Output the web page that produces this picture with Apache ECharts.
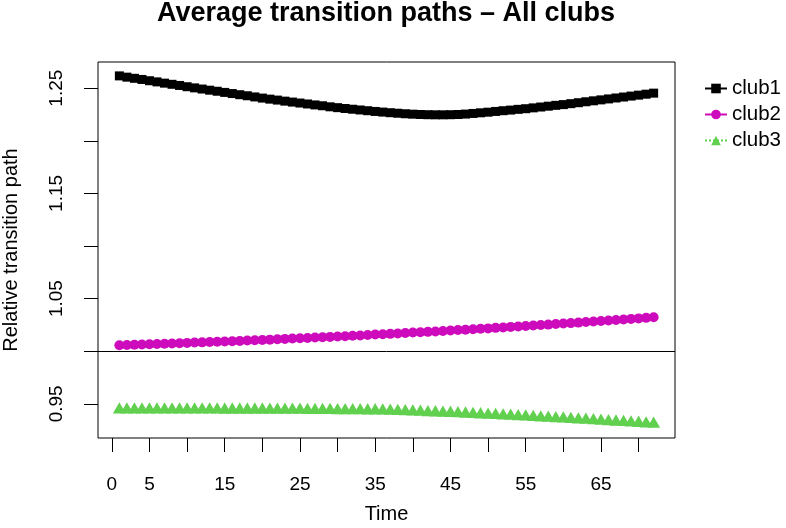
<!DOCTYPE html>
<html>
<head>
<meta charset="utf-8">
<script src="https://cdn.jsdelivr.net/npm/echarts@6/dist/echarts.min.js"></script>
<style>html,body{margin:0;padding:0;background:#fff;}#c{width:786px;height:528px;}</style>
</head>
<body>
<div id="c"></div>
<script>
var titleText = 'Average transition paths \u2013 All clubs';
var xName = 'Time';
var yName = 'Relative transition path';
var seriesNames = ['club1', 'club2', 'club3'];

var time = [1,2,3,4,5,6,7,8,9,10,11,12,13,14,15,16,17,18,19,20,21,22,23,24,25,26,27,28,29,30,31,32,33,34,35,36,
            37,38,39,40,41,42,43,44,45,46,47,48,49,50,51,52,53,54,55,56,57,58,59,60,61,62,63,64,65,66,67,68,69,70,71,72];

var club1 = [1.2617,1.2605,1.2594,1.2583,1.2571,1.2560,1.2548,1.2537,1.2526,1.2514,
             1.2503,1.2492,1.2481,1.2471,1.2460,1.2449,1.2438,1.2428,1.2417,1.2406,
             1.2396,1.2387,1.2377,1.2368,1.2359,1.2350,1.2341,1.2333,1.2323,1.2315,
             1.2307,1.2300,1.2293,1.2286,1.2279,1.2273,1.2267,1.2262,1.2257,1.2253,
             1.2250,1.2248,1.2247,1.2247,1.2248,1.2250,1.2254,1.2260,1.2266,1.2272,
             1.2279,1.2286,1.2292,1.2299,1.2305,1.2313,1.2321,1.2329,1.2337,1.2344,
             1.2353,1.2362,1.2371,1.2380,1.2389,1.2398,1.2407,1.2416,1.2425,1.2434,
             1.2443,1.2453];

var club2 = [1.0057,1.0059,1.0062,1.0064,1.0066,1.0069,1.0071,1.0074,1.0076,1.0079,
             1.0082,1.0084,1.0087,1.0090,1.0093,1.0095,1.0098,1.0101,1.0104,1.0107,
             1.0110,1.0113,1.0117,1.0120,1.0123,1.0126,1.0130,1.0133,1.0136,1.0140,
             1.0143,1.0147,1.0150,1.0154,1.0158,1.0161,1.0165,1.0169,1.0173,1.0177,
             1.0180,1.0184,1.0188,1.0192,1.0196,1.0201,1.0205,1.0209,1.0213,1.0217,
             1.0222,1.0226,1.0231,1.0235,1.0239,1.0244,1.0249,1.0253,1.0258,1.0263,
             1.0267,1.0272,1.0277,1.0282,1.0287,1.0292,1.0297,1.0302,1.0307,1.0312,
             1.0317,1.0322];

var club3 = [0.9444,0.9444,0.9444,0.9444,0.9444,0.9444,0.9443,0.9443,0.9443,0.9443,
             0.9443,0.9443,0.9443,0.9443,0.9442,0.9442,0.9442,0.9442,0.9442,0.9442,
             0.9441,0.9441,0.9440,0.9440,0.9440,0.9439,0.9439,0.9438,0.9438,0.9437,
             0.9437,0.9436,0.9436,0.9435,0.9435,0.9434,0.9431,0.9429,0.9426,0.9424,
             0.9421,0.9418,0.9416,0.9413,0.9411,0.9408,0.9404,0.9401,0.9397,0.9394,
             0.9391,0.9387,0.9384,0.9380,0.9376,0.9372,0.9368,0.9364,0.9360,0.9357,
             0.9353,0.9349,0.9345,0.9341,0.9337,0.9332,0.9328,0.9324,0.9320,0.9316,
             0.9311,0.9307];

var xTicks = [0,5,10,15,20,25,30,35,40,45,50,55,60,65,70];
var xTickLabels = [0,5,15,25,35,45,55,65];
var yTicks = [0.95,1.00,1.05,1.10,1.15,1.20,1.25];
var yTickLabels = [0.95,1.05,1.15,1.25];
var refLine = 1.0;

function pairs(xs, ys) { return xs.map(function (x, i) { return [x, ys[i]]; }); }

var FONT = '"Liberation Sans", Arial, Helvetica, sans-serif';
var chart = echarts.init(document.getElementById('c'), null, {renderer: 'canvas'});
chart.setOption({
  animation: false,
  backgroundColor: '#fff',
  textStyle: {fontFamily: FONT, color: '#000'},
  title: {
    text: titleText, left: 386, top: 0, padding: 0, textAlign: 'center',
    textStyle: {fontFamily: FONT, fontWeight: 'bold', fontSize: 27, color: '#000'}
  },
  legend: {
    orient: 'vertical', left: 704, top: 78, padding: 0,
    itemWidth: 22, itemHeight: 12, itemGap: 5,
    textStyle: {fontFamily: FONT, fontSize: 20.5, color: '#000', lineHeight: 20},
    data: seriesNames
  },
  grid: {left: 98, right: 111, top: 62, bottom: 90, show: true, borderColor: '#000', borderWidth: 1,
         backgroundColor: 'transparent', containLabel: false, outerBoundsMode: 'none'},
  xAxis: {
    type: 'value', min: -1.84, max: 74.84,
    name: xName, nameLocation: 'middle', nameGap: 66,
    nameTextStyle: {fontFamily: FONT, fontSize: 20, color: '#000'},
    axisLine: {show: false, onZero: false},
    axisTick: {show: true, length: 14, lineStyle: {color: '#000', width: 1}, customValues: xTicks},
    axisLabel: {show: true, margin: 37, fontFamily: FONT, fontSize: 19, color: '#000', customValues: xTickLabels,
                formatter: function (v) { return String(v); }},
    splitLine: {show: false}
  },
  yAxis: {
    type: 'value', min: 0.9175, max: 1.2749,
    name: yName, nameLocation: 'middle', nameGap: 77, nameRotate: 90,
    nameTextStyle: {fontFamily: FONT, fontSize: 20, color: '#000'},
    axisLine: {show: false, onZero: false},
    axisTick: {show: true, length: 14, lineStyle: {color: '#000', width: 1}, customValues: yTicks},
    axisLabel: {show: true, margin: 32, rotate: 90, fontFamily: FONT, fontSize: 19, color: '#000', customValues: yTickLabels,
                formatter: function (v) { return Number(v).toFixed(2); }},
    splitLine: {show: false}
  },
  series: [
    {
      name: seriesNames[0], type: 'line', data: pairs(time, club1),
      symbol: 'rect', symbolSize: 9, showAllSymbol: true,
      itemStyle: {color: '#000'}, lineStyle: {color: '#000', width: 1},
      markLine: {silent: true, symbol: 'none', label: {show: false},
                 lineStyle: {color: '#000', width: 1, type: 'solid'},
                 data: [{yAxis: refLine}]}
    },
    {
      name: seriesNames[1], type: 'line', data: pairs(time, club2),
      symbol: 'circle', symbolSize: 10, showAllSymbol: true,
      itemStyle: {color: '#CD0BBC'}, lineStyle: {color: '#CD0BBC', width: 1}
    },
    {
      name: seriesNames[2], type: 'line', data: pairs(time, club3),
      symbol: 'triangle', symbolSize: [13, 11.3], symbolOffset: [0, -1.9], showAllSymbol: true,
      itemStyle: {color: '#61D04F'}, lineStyle: {color: '#61D04F', width: 1, type: 'dotted'}
    }
  ]
});
</script>
</body>
</html>
